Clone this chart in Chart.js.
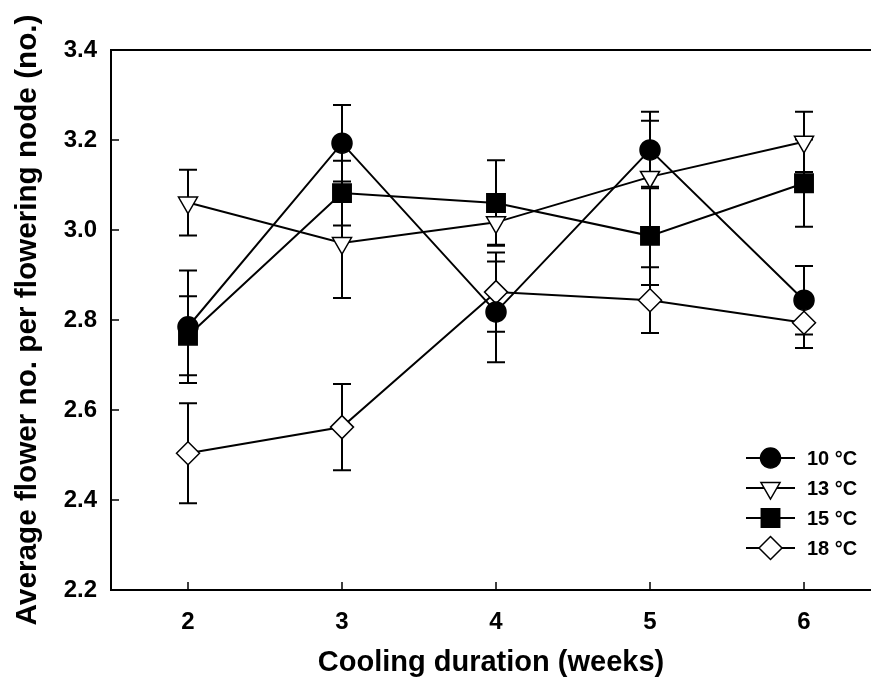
<!DOCTYPE html>
<html><head><meta charset="utf-8">
<script src="https://cdn.jsdelivr.net/npm/chart.js@4/dist/chart.umd.min.js"></script>
<style>html,body{margin:0;padding:0;background:#fff;overflow:hidden}#wrap{width:871px;height:685px}</style>
</head><body><div id="wrap"><canvas id="c" width="871" height="685"></canvas></div>
<script>
// ---- data ----
const weeks = [2, 3, 4, 5, 6];
const yTickValues = [2.2, 2.4, 2.6, 2.8, 3.0, 3.2, 3.4];
const seriesLabels = ['10 °C', '13 °C', '15 °C', '18 °C'];
const mean10 = [2.785, 3.193, 2.818, 3.178, 2.844];
const err10  = [0.125, 0.085, 0.112, 0.085, 0.076];
const mean13 = [3.061, 2.971, 3.017, 3.118, 3.196];
const err13  = [0.073, 0.122, 0.050, 0.125, 0.067];
const mean15 = [2.765, 3.082, 3.060, 2.987, 3.104];
const err15  = [0.088, 0.072, 0.095, 0.109, 0.097];
const mean18 = [2.504, 2.562, 2.862, 2.844, 2.794];
const err18  = [0.111, 0.096, 0.088, 0.073, 0.056];
const xTitle = 'Cooling duration (weeks)';
const yTitle = 'Average flower no. per flowering node (no.)';

const FONT = '"Liberation Sans", Arial, Helvetica, sans-serif';
const toPts = arr => arr.map((v, i) => ({x: weeks[i], y: v}));

const styles = [
  {pointStyle: 'circle', radius: 10, fill: '#000', rotation: 0},
  {pointStyle: 'triangle', radius: 11, fill: '#fff', rotation: 180},
  {pointStyle: 'rect', radius: 13, fill: '#000', rotation: 0},
  {pointStyle: 'rectRot', radius: 11.5, fill: '#fff', rotation: 0}
];
const means = [mean10, mean13, mean15, mean18];
const errs = [err10, err13, err15, err18];

const datasets = means.map((m, k) => ({
  label: seriesLabels[k],
  data: toPts(m),
  errors: errs[k],
  borderColor: '#000',
  borderWidth: 2,
  backgroundColor: styles[k].fill,
  pointStyle: styles[k].pointStyle,
  pointRadius: styles[k].radius,
  pointHoverRadius: styles[k].radius,
  pointRotation: styles[k].rotation,
  pointBackgroundColor: styles[k].fill,
  pointBorderColor: '#000',
  pointBorderWidth: 1.5,
  tension: 0,
  fill: false,
  clip: false
}));

function drawMarker(ctx, style, x, y) {
  const r = style.radius;
  ctx.beginPath();
  if (style.pointStyle === 'circle') {
    ctx.arc(x, y, r, 0, Math.PI * 2);
  } else if (style.pointStyle === 'triangle') {
    ctx.moveTo(x, y + r);
    ctx.lineTo(x - r * Math.sqrt(3) / 2, y - r / 2);
    ctx.lineTo(x + r * Math.sqrt(3) / 2, y - r / 2);
    ctx.closePath();
  } else if (style.pointStyle === 'rect') {
    const s = r * Math.SQRT1_2;
    ctx.rect(x - s, y - s, 2 * s, 2 * s);
  } else {
    ctx.moveTo(x - r, y); ctx.lineTo(x, y - r); ctx.lineTo(x + r, y); ctx.lineTo(x, y + r);
    ctx.closePath();
  }
  ctx.fillStyle = style.fill; ctx.fill();
  ctx.lineWidth = 1.5; ctx.strokeStyle = '#000'; ctx.stroke();
}

const framePlugin = {
  id: 'frame',
  beforeDatasetsDraw(chart) {
    const {ctx, chartArea: a, scales: {x, y}} = chart;
    ctx.save();
    ctx.strokeStyle = '#000';
    ctx.lineWidth = 2;
    ctx.beginPath();
    ctx.moveTo(a.right + 2, a.top); ctx.lineTo(a.left, a.top);
    ctx.lineTo(a.left, a.bottom); ctx.lineTo(a.right + 2, a.bottom);
    ctx.stroke();
    ctx.lineWidth = 1.5;
    ctx.beginPath();
    weeks.forEach(w => { const px = x.getPixelForValue(w); ctx.moveTo(px, a.bottom); ctx.lineTo(px, a.bottom - 8); });
    yTickValues.forEach(v => { const py = y.getPixelForValue(v); ctx.moveTo(a.left, py); ctx.lineTo(a.left + 8, py); });
    ctx.stroke();
    // error bars
    ctx.lineWidth = 2;
    chart.data.datasets.forEach(ds => {
      ds.data.forEach((p, i) => {
        const e = ds.errors[i];
        const px = x.getPixelForValue(p.x);
        const t = y.getPixelForValue(p.y + e), b = y.getPixelForValue(p.y - e);
        ctx.beginPath();
        ctx.moveTo(px, t); ctx.lineTo(px, b);
        ctx.moveTo(px - 9, t); ctx.lineTo(px + 9, t);
        ctx.moveTo(px - 9, b); ctx.lineTo(px + 9, b);
        ctx.stroke();
      });
    });
    ctx.restore();
  },
  afterDraw(chart) {
    const {ctx} = chart;
    ctx.save();
    chart.data.datasets.forEach((ds, k) => {
      const yy = 458 + k * 30;
      ctx.strokeStyle = '#000'; ctx.lineWidth = 2;
      ctx.beginPath(); ctx.moveTo(746, yy); ctx.lineTo(795, yy); ctx.stroke();
      drawMarker(ctx, styles[k], 770.5, yy);
      ctx.fillStyle = '#000';
      ctx.font = 'bold 20px ' + FONT;
      ctx.textAlign = 'left'; ctx.textBaseline = 'middle';
      ctx.fillText(ds.label, 807, yy + 1);
    });
    ctx.restore();
  }
};

new Chart(document.getElementById('c'), {
  type: 'line',
  data: {datasets},
  plugins: [framePlugin],
  options: {
    responsive: false,
    animation: false,
    events: [],
    layout: {autoPadding: false, padding: {top: 50, right: 0, left: 0, bottom: 0}},
    plugins: {legend: {display: false}, tooltip: {enabled: false}},
    scales: {
      x: {
        type: 'linear', min: 1.5, max: 6.435,
        afterBuildTicks: s => { s.ticks = weeks.map(v => ({value: v})); },
        afterFit: s => { s.height = 95; s.paddingLeft = 0; s.paddingRight = 0; },
        grid: {display: false, drawTicks: false},
        border: {display: false},
        ticks: {color: '#000', font: {family: FONT, size: 24, weight: 'bold'}, padding: 18, callback: v => String(v)},
        title: {display: true, text: xTitle, color: '#000', font: {family: FONT, size: 29, weight: 'bold'}, padding: {top: 0, bottom: 5}}
      },
      y: {
        type: 'linear', min: 2.2, max: 3.4,
        afterBuildTicks: s => { s.ticks = yTickValues.map(v => ({value: v})); },
        afterFit: s => { s.width = 111; s.paddingTop = 0; s.paddingBottom = 0; },
        grid: {display: false, drawTicks: false},
        border: {display: false},
        ticks: {color: '#000', font: {family: FONT, size: 24, weight: 'bold'}, padding: 14, callback: v => Number(v).toFixed(1)},
        title: {display: true, text: yTitle, color: '#000', font: {family: FONT, size: 29.7, weight: 'bold'}, padding: {top: 10, bottom: 0}}
      }
    }
  }
});
</script>
</body></html>
